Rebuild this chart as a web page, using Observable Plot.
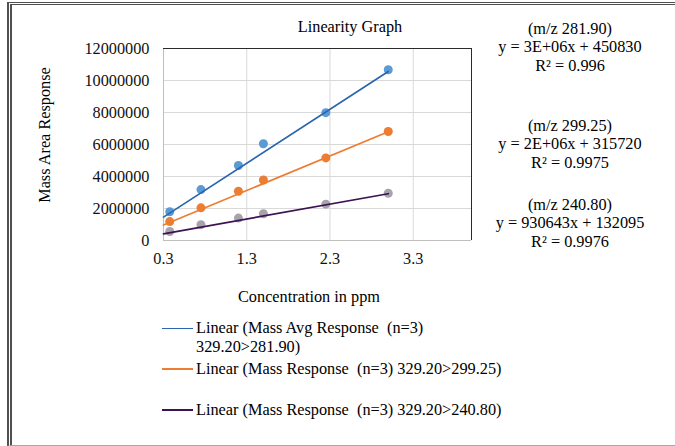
<!DOCTYPE html>
<html>
<head>
<meta charset="utf-8">
<script src="https://cdn.jsdelivr.net/npm/d3@7"></script>
<script src="https://cdn.jsdelivr.net/npm/@observablehq/plot@0.6"></script>
<style>
  html, body { margin: 0; padding: 0; background: #fff; }
  #wrap { position: relative; width: 675px; height: 446px; overflow: hidden;
          font-family: "Liberation Serif", "Times New Roman", serif; font-size: 16.3px; color: #000; }
  #chart { position: absolute; left: 0; top: 0; }
  .abs { position: absolute; white-space: pre; }
  .ctr { transform: translate(-50%, -50%); line-height: 1; }
  #frame { position: absolute; left: 7px; top: 2px; right: -2px; bottom: 0px;
           border-top: 3px double #505050; border-left: 5px double #505050; border-bottom: 1px solid #a8a8a8; }
</style>
</head>
<body>
<div id="wrap">
  <div id="chart"></div>
  <div id="frame"></div>
</div>
<script>
// ---- data ----
const concentration = [0.375, 0.75, 1.2, 1.5, 2.25, 3.0];
const resp28190 = [1800000, 3180000, 4690000, 6050000, 7990000, 10670000];
const resp29925 = [1180000, 2040000, 3080000, 3780000, 5160000, 6810000];
const resp24080 = [560000, 990000, 1400000, 1670000, 2270000, 2950000];

const trendSlopes = [3370000, 2160000, 930643];
const trendIntercepts = [450830, 315720, 132095];
const trendRange = [0.3, 3.0];

const xTicks = [0.3, 1.3, 2.3, 3.3];
const yTicks = [0, 2000000, 4000000, 6000000, 8000000, 10000000, 12000000];
const xDomain = [0.3, 4.0];
const yDomain = [0, 12000000];

const equationTitles = ["(m/z 281.90)", "(m/z 299.25)", "(m/z 240.80)"];
const equationTexts = ["y = 3E+06x + 450830", "y = 2E+06x + 315720", "y = 930643x + 132095"];
const r2Texts = ["R\u00B2 = 0.996", "R\u00B2 = 0.9975", "R\u00B2 = 0.9976"];

const legendLabels = [
  "Linear (Mass Avg Response  (n=3)\n329.20>281.90)",
  "Linear (Mass Response  (n=3) 329.20>299.25)",
  "Linear (Mass Response  (n=3) 329.20>240.80)"
];

const titleText = "Linearity Graph";
const xLabel = "Concentration in ppm";
const yLabel = "Mass Area Response";

// ---- styles ----
const series = [resp28190, resp29925, resp24080];
const dotColors = ["#5b9bd5", "#ed7d31", "#a7a3ab"];
const lineColors = ["#2a66b0", "#ed7d31", "#3d1152"];

const marks = [
  Plot.gridY(yTicks, {stroke: "#d9d9d9", strokeOpacity: 1}),
  Plot.gridX(xTicks.slice(1), {stroke: "#d9d9d9", strokeOpacity: 1}),
  Plot.ruleY([yDomain[0]], {stroke: "#bfbfbf"}),
  Plot.ruleX([xDomain[0]], {stroke: "#bfbfbf"}),
  Plot.ruleY([yDomain[1]], {stroke: "#2b2b2b"}),
  Plot.ruleX([xDomain[1]], {stroke: "#2b2b2b"})
];
series.forEach((vals, i) => {
  const pts = concentration.map((x, j) => ({x, y: vals[j]}));
  marks.push(Plot.dot(pts, {x: "x", y: "y", r: 4.5, fill: dotColors[i], stroke: "none"}));
});
series.forEach((vals, i) => {
  const ln = trendRange.map(x => ({x, y: trendIntercepts[i] + trendSlopes[i] * x}));
  marks.push(Plot.line(ln, {x: "x", y: "y", stroke: lineColors[i], strokeWidth: 1.7}));
});
marks.push(Plot.axisY({ticks: yTicks, tickSize: 0, tickPadding: 14, tickFormat: d => String(d), label: null, fill: "#111"}));
marks.push(Plot.axisX({ticks: xTicks, tickSize: 0, tickPadding: 12, tickFormat: d => d.toFixed(1), label: null, fill: "#111"}));

const chart = Plot.plot({
  width: 675,
  height: 446,
  marginLeft: 163,
  marginRight: 204,
  marginTop: 48,
  marginBottom: 206,
  x: {domain: xDomain},
  y: {domain: yDomain},
  style: {fontFamily: '"Liberation Serif", "Times New Roman", serif', fontSize: "16.3px", background: "transparent", color: "#000"},
  marks
});
document.getElementById("chart").appendChild(chart);

// ---- text overlays ----
const wrap = document.getElementById("wrap");
function addText(txt, left, top, cls, extra) {
  const d = document.createElement("div");
  d.className = "abs " + (cls || "");
  d.style.left = left + "px";
  d.style.top = top + "px";
  if (extra) Object.assign(d.style, extra);
  d.textContent = txt;
  wrap.appendChild(d);
  return d;
}
addText(titleText, 350, 27, "ctr");
addText(xLabel, 309, 297, "ctr");
addText(yLabel, 45, 135, "", {transform: "translate(-50%, -50%) rotate(-90deg)", lineHeight: "1"});

const blockTops = [19.5, 116.5, 195.5];
equationTitles.forEach((t, i) => {
  addText(t + "\n" + equationTexts[i] + "\n" + r2Texts[i], 570, blockTops[i], "",
    {transform: "translateX(-50%)", textAlign: "center", lineHeight: "18.5px"});
});

const legendCenters = [328.5, 369, 410];
legendLabels.forEach((t, i) => {
  const sw = document.createElement("div");
  Object.assign(sw.style, {position: "absolute", left: "162px", top: (legendCenters[i] - 0.75) + "px",
    width: "31px", height: "1.5px", background: lineColors[i]});
  wrap.appendChild(sw);
  addText(t, 196, legendCenters[i] - 9.25, "", {lineHeight: "18.5px"});
});
</script>
</body>
</html>
